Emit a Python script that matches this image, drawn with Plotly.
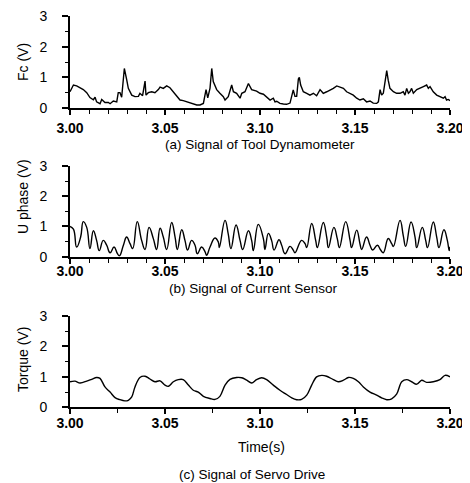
import plotly.graph_objects as go

# ---------------- data ----------------
# (a) Tool dynamometer Fc (V)
t_fc = [3.0000, 3.0018, 3.0035, 3.0053, 3.0070, 3.0088, 3.0105, 3.0123, 3.0132, 3.0140,
        3.0158, 3.0167, 3.0184, 3.0202, 3.0211, 3.0228, 3.0246, 3.0254, 3.0263, 3.0272,
        3.0286, 3.0298, 3.0307, 3.0325, 3.0342, 3.0360, 3.0368, 3.0382, 3.0395, 3.0400,
        3.0412, 3.0430, 3.0447, 3.0465, 3.0474, 3.0491, 3.0509, 3.0526, 3.0544, 3.0561,
        3.0579, 3.0596, 3.0614, 3.0632, 3.0649, 3.0667, 3.0684, 3.0702, 3.0716, 3.0725,
        3.0737, 3.0746, 3.0754, 3.0772, 3.0789, 3.0807, 3.0816, 3.0833, 3.0851, 3.0860,
        3.0877, 3.0895, 3.0904, 3.0921, 3.0939, 3.0956, 3.0982,
        3.1000, 3.1018, 3.1035, 3.1053, 3.1070, 3.1079, 3.1088, 3.1105, 3.1123, 3.1140,
        3.1158, 3.1167, 3.1175, 3.1184, 3.1193, 3.1202, 3.1207, 3.1214, 3.1228, 3.1246,
        3.1263, 3.1281, 3.1298, 3.1316, 3.1333, 3.1351, 3.1368, 3.1386, 3.1404, 3.1421,
        3.1439, 3.1456, 3.1474, 3.1491, 3.1509, 3.1526, 3.1544, 3.1561, 3.1579, 3.1596,
        3.1614, 3.1623, 3.1632, 3.1640, 3.1649, 3.1658, 3.1667, 3.1675, 3.1684, 3.1702,
        3.1719, 3.1737, 3.1754, 3.1763, 3.1772, 3.1781, 3.1789, 3.1798, 3.1807, 3.1825,
        3.1842, 3.1860, 3.1877, 3.1886, 3.1895, 3.1912, 3.1930, 3.1947, 3.1965, 3.1974,
        3.1982, 3.1991, 3.2000]
fc = [0.53, 0.75, 0.72, 0.66, 0.60, 0.50, 0.34, 0.27, 0.35, 0.20,
      0.14, 0.28, 0.18, 0.18, 0.14, 0.23, 0.20, 0.50, 0.50, 0.35,
      1.29, 0.93, 0.64, 0.42, 0.37, 0.38, 0.48, 0.40, 0.88, 0.42,
      0.50, 0.53, 0.50, 0.60, 0.68, 0.64, 0.72, 0.66, 0.53, 0.37,
      0.26, 0.24, 0.20, 0.17, 0.13, 0.10, 0.10, 0.15, 0.60, 0.33,
      0.65, 1.29, 0.86, 0.60, 0.48, 0.37, 0.26, 0.37, 0.75, 0.53,
      0.48, 0.32, 0.48, 0.53, 0.80, 0.60, 0.55,
      0.48, 0.45, 0.37, 0.26, 0.32, 0.20, 0.22, 0.15, 0.13, 0.12,
      0.16, 0.42, 0.59, 0.38, 0.38, 0.95, 1.00, 0.75, 0.53, 0.48,
      0.42, 0.48, 0.40, 0.60, 0.48, 0.53, 0.58, 0.64, 0.72, 0.68,
      0.64, 0.53, 0.48, 0.42, 0.32, 0.26, 0.30, 0.20, 0.23, 0.16,
      0.15, 0.20, 0.60, 0.42, 0.48, 0.95, 1.22, 0.90, 0.64, 0.53,
      0.48, 0.48, 0.53, 0.42, 0.64, 0.48, 0.53, 0.64, 0.48, 0.60,
      0.64, 0.70, 0.75, 0.64, 0.70, 0.53, 0.42, 0.37, 0.32, 0.37,
      0.26, 0.28, 0.24]

# (b) Current sensor U phase (V)
t_u = [3.0000, 3.0018, 3.0035, 3.0056, 3.0070, 3.0088, 3.0105, 3.0123, 3.0140, 3.0154,
       3.0175, 3.0193, 3.0211, 3.0232, 3.0249, 3.0260, 3.0281, 3.0298, 3.0316, 3.0330,
       3.0354, 3.0377, 3.0395, 3.0416, 3.0439, 3.0456, 3.0474, 3.0491, 3.0509, 3.0535,
       3.0553, 3.0565, 3.0588, 3.0605, 3.0619, 3.0640, 3.0658, 3.0670, 3.0693, 3.0711,
       3.0719, 3.0737, 3.0763, 3.0781, 3.0786, 3.0816, 3.0833, 3.0847, 3.0874, 3.0895,
       3.0909, 3.0939, 3.0956, 3.0965, 3.0991,
       3.1018, 3.1026, 3.1044, 3.1061, 3.1074, 3.1100, 3.1114, 3.1132, 3.1158, 3.1175,
       3.1184, 3.1219, 3.1237, 3.1246, 3.1272, 3.1293, 3.1302, 3.1333, 3.1351, 3.1360,
       3.1389, 3.1407, 3.1418, 3.1451, 3.1474, 3.1482, 3.1509, 3.1526, 3.1535, 3.1561,
       3.1579, 3.1593, 3.1618, 3.1635, 3.1649, 3.1675, 3.1693, 3.1702, 3.1737, 3.1754,
       3.1767, 3.1795, 3.1816, 3.1825, 3.1854, 3.1872, 3.1882, 3.1912, 3.1930, 3.1942,
       3.1968, 3.1986, 3.1996, 3.2000]
u = [1.00, 0.91, 0.32, 0.65, 1.16, 0.97, 0.27, 0.86, 0.54, 0.20,
     0.54, 0.38, 0.13, 0.32, 0.11, 0.03, 0.38, 0.65, 0.43, 0.27,
     1.16, 0.54, 0.24, 0.97, 0.59, 0.24, 0.94, 0.65, 0.24, 1.13,
     0.65, 0.24, 0.89, 0.54, 0.22, 0.54, 0.38, 0.10, 0.32, 0.16,
     0.05, 0.32, 0.62, 0.48, 0.30, 1.20, 0.75, 0.27, 1.05, 0.54,
     0.24, 0.86, 0.54, 0.20, 1.07,
     0.59, 0.24, 0.77, 0.54, 0.22, 0.56, 0.38, 0.10, 0.34, 0.22,
     0.13, 0.54, 0.43, 0.30, 1.10, 0.54, 0.30, 1.13, 0.65, 0.30,
     0.97, 0.59, 0.30, 1.16, 0.54, 0.30, 0.88, 0.43, 0.24, 0.65,
     0.38, 0.22, 0.38, 0.22, 0.13, 0.60, 0.43, 0.34, 1.20, 0.70,
     0.34, 1.15, 0.65, 0.30, 0.97, 0.54, 0.30, 1.15, 0.65, 0.30,
     0.89, 0.54, 0.20, 0.33]

# (c) Servo drive torque (V)
t_tq = [3.0000, 3.0026, 3.0053, 3.0088, 3.0114, 3.0140, 3.0158, 3.0184, 3.0211, 3.0237,
        3.0263, 3.0289, 3.0307, 3.0325, 3.0342, 3.0368, 3.0395, 3.0421, 3.0447, 3.0474,
        3.0500, 3.0518, 3.0544, 3.0570, 3.0596, 3.0623, 3.0649, 3.0675, 3.0702, 3.0737,
        3.0763, 3.0789, 3.0816, 3.0842, 3.0877, 3.0904, 3.0930, 3.0956, 3.0982, 3.1009,
        3.1035, 3.1070, 3.1105, 3.1140, 3.1167, 3.1193, 3.1219, 3.1246, 3.1272, 3.1298,
        3.1325, 3.1351, 3.1386, 3.1412, 3.1439, 3.1465, 3.1491, 3.1518, 3.1544, 3.1579,
        3.1614, 3.1640, 3.1667, 3.1693, 3.1719, 3.1746, 3.1772, 3.1798, 3.1825, 3.1851,
        3.1877, 3.1912, 3.1947, 3.1974, 3.2000]
tq = [0.84, 0.86, 0.80, 0.86, 0.92, 0.98, 0.95, 0.67, 0.50, 0.32,
      0.25, 0.21, 0.23, 0.34, 0.67, 0.98, 1.02, 0.93, 0.84, 0.87,
      0.73, 0.69, 0.84, 0.91, 0.91, 0.73, 0.56, 0.50, 0.36, 0.29,
      0.26, 0.36, 0.73, 0.92, 0.98, 0.97, 0.89, 0.80, 0.91, 0.97,
      0.91, 0.73, 0.56, 0.42, 0.31, 0.25, 0.26, 0.40, 0.73, 1.00,
      1.05, 1.02, 0.91, 0.84, 0.89, 0.98, 0.95, 0.84, 0.67, 0.50,
      0.40, 0.31, 0.25, 0.28, 0.43, 0.84, 0.91, 0.84, 0.76, 0.89,
      0.82, 0.84, 0.91, 1.05, 1.00]

x_ticks = [3.00, 3.05, 3.10, 3.15, 3.20]
x_ticktext = ["3.00", "3.05", "3.10", "3.15", "3.20"]
y_ticks = [0, 1, 2, 3]

y_titles = ["Fc (V)", "U phase (V)", "Torque (V)"]
captions = ["(a) Signal of Tool Dynamometer", "(b) Signal of Current Sensor",
            "(c) Signal of Servo Drive"]
x_title = "Time(s)"

# ---------------- figure ----------------
# the page body has an 8px margin, so the figure is drawn 8px in from the window edge
OFF = 8
W, H = 462, 475

def px(p):
    return (p - OFF) / W

def py(p):
    return 1 - (p - OFF) / H

x_dom = [px(70), px(450)]
y_doms = [[py(108), py(16)], [py(256.7), py(166)], [py(407.3), py(316)]]
minor_dt = [0.01, 0.01, 0.025]
standoffs = [1, -4, -3]
line_shapes = ["linear", "spline", "spline"]
smooth = [1.0, 1.3, 1.0]

FONT = "Liberation Sans, Arial, sans-serif"

fig = go.Figure()
series = [(t_fc, fc), (t_u, u), (t_tq, tq)]
for i, (tt, vv) in enumerate(series):
    sfx = "" if i == 0 else str(i + 1)
    fig.add_trace(go.Scatter(
        x=tt, y=vv, mode="lines",
        line=dict(color="black", width=1.4, shape=line_shapes[i], smoothing=smooth[i]),
        xaxis="x" + sfx, yaxis="y" + sfx, showlegend=False, hoverinfo="skip"))

layout = dict(
    width=W, height=H, margin=dict(l=0, r=0, t=0, b=0, autoexpand=False),
    paper_bgcolor="white", plot_bgcolor="white",
    font=dict(family=FONT, color="black"),
)
for i in range(3):
    sfx = "" if i == 0 else str(i + 1)
    layout["xaxis" + sfx] = dict(
        domain=x_dom, anchor="y" + sfx, range=[3.0, 3.2], automargin=False,
        tickmode="array", tickvals=x_ticks, ticktext=x_ticktext,
        tickfont=dict(size=14, weight="bold", family=FONT),
        ticks="outside", ticklen=5, tickwidth=1.5, tickcolor="black",
        ticklabelstandoff=standoffs[i], ticklabeloverflow="allow",
        minor=dict(dtick=minor_dt[i], tick0=3.0, ticks="outside", ticklen=4,
                   tickwidth=1.2, tickcolor="black"),
        showline=True, linecolor="black", linewidth=1.8,
        showgrid=False, zeroline=False, fixedrange=True)
    layout["yaxis" + sfx] = dict(
        domain=y_doms[i], anchor="x" + sfx, range=[0, 3], automargin=False,
        tickvals=y_ticks, tickfont=dict(size=14, family=FONT),
        ticks="outside", ticklen=6, tickwidth=1.5, tickcolor="black",
        ticklabelstandoff=12, ticklabeloverflow="allow",
        minor=dict(dtick=0.5, ticks="outside", ticklen=3, tickwidth=1.2,
                   tickcolor="black"),
        showline=True, linecolor="black", linewidth=1.8,
        showgrid=False, zeroline=False, fixedrange=True)
fig.update_layout(**layout)

ann = []
ytitle_y = [62, 197, 360]
for i in range(3):
    ann.append(dict(text=y_titles[i], x=px(23), y=py(ytitle_y[i]), xref="paper",
                    yref="paper", showarrow=False, textangle=-90,
                    font=dict(size=14, family=FONT), xanchor="center", yanchor="middle"))
cap_pos = [(260, 144), (253, 288), (252, 474)]
for i in range(3):
    ann.append(dict(text=captions[i], x=px(cap_pos[i][0]), y=py(cap_pos[i][1]),
                    xref="paper", yref="paper", showarrow=False,
                    font=dict(size=13.5, family=FONT), xanchor="center", yanchor="middle"))
ann.append(dict(text=x_title, x=px(261), y=py(447), xref="paper", yref="paper",
                showarrow=False, font=dict(size=14, family=FONT),
                xanchor="center", yanchor="middle"))
fig.update_layout(annotations=ann)

fig.write_html("out.html")
